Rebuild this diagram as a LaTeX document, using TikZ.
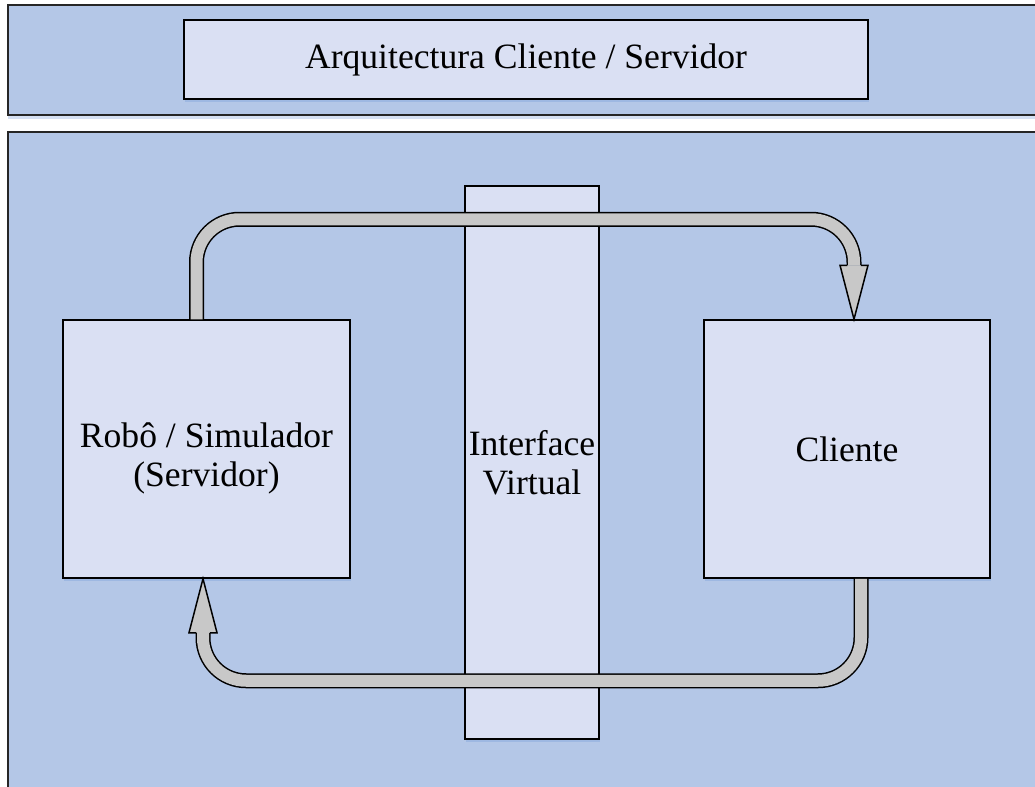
\documentclass[tikz,border=0pt]{standalone}
\usepackage{fontspec}
\setmainfont{Liberation Serif}
\usetikzlibrary{calc,shadows}
\definecolor{panelblue}{RGB}{180,199,231}
\definecolor{boxblue}{RGB}{218,224,243}
\definecolor{tubegray}{RGB}{200,200,200}
\definecolor{shadowblue}{RGB}{150,178,224}

\begin{document}
\begin{tikzpicture}[x=0.5pt,y=-0.5pt,font=\fontsize{17.8}{19.5}\selectfont]
			\tikzset{panel/.style={draw=black!85, fill=panelblue, line width=1pt},
				caja/.style={draw=black, fill=boxblue, rectangle, line width=0.75pt, align=center, drop shadow={shadow xshift=0.5pt, shadow yshift=-1.5pt, fill=shadowblue, opacity=0.7}},
				tubo/.style={draw=black, line width=0.75pt, double=tubegray, double distance=6pt, rounded corners=21.5pt},
				punta/.pic={\fill[tubegray] (-14,-54) -- (0,0) -- (14,-54) -- cycle;
					\draw[line width=0.75pt, line join=miter] (-6.75,-54) -- (-14,-54) -- (0,0) -- (14,-54) -- (6.75,-54);}}
			\useasboundingbox (0,0) rectangle (1035,787);
			\clip (0,0) rectangle (1035,787);
			\path[panel, drop shadow={shadow xshift=0pt, shadow yshift=-2pt, fill=shadowblue, opacity=0.4}] (8,5) rectangle (1045,115);
			\path[panel] (8,132) rectangle (1045,800);
			\node[caja, minimum width=342pt, minimum height=39.5pt] at (526,59.5) (titulo){Arquitectura Cliente / Servidor};
			\node[caja, minimum width=143.5pt, minimum height=129pt] at (206.5,449) (robo){\raisebox{-5pt}[\height][\depth]{\begin{tabular}{@{}c@{}}Robô / Simulador\\(Servidor)\end{tabular}}};
			\node[caja, minimum width=143pt, minimum height=129pt] at (847,449) (cliente){Cliente};
			\node[caja, inner xsep=0.5pt, minimum width=67pt, minimum height=276.5pt] at (532,462.5) (interface){Interface\\Virtual};
			\coordinate (ida) at ($(cliente.north)+(7,0)$);
			\coordinate (volta) at ($(robo.south)+(-3.5,0)$);
			\draw[tubo] ($(robo.north)+(-10,0)$) |- ($(ida)+(0,-100)$) -- ($(ida)+(0,-54)$);
			\pic at (ida) {punta};
			\draw[tubo] ($(cliente.south)+(14,0)$) |- ($(volta)+(0,102)$) -- ($(volta)+(0,54)$);
			\pic[rotate=180] at (volta) {punta};
	\end{tikzpicture}
\end{document}
